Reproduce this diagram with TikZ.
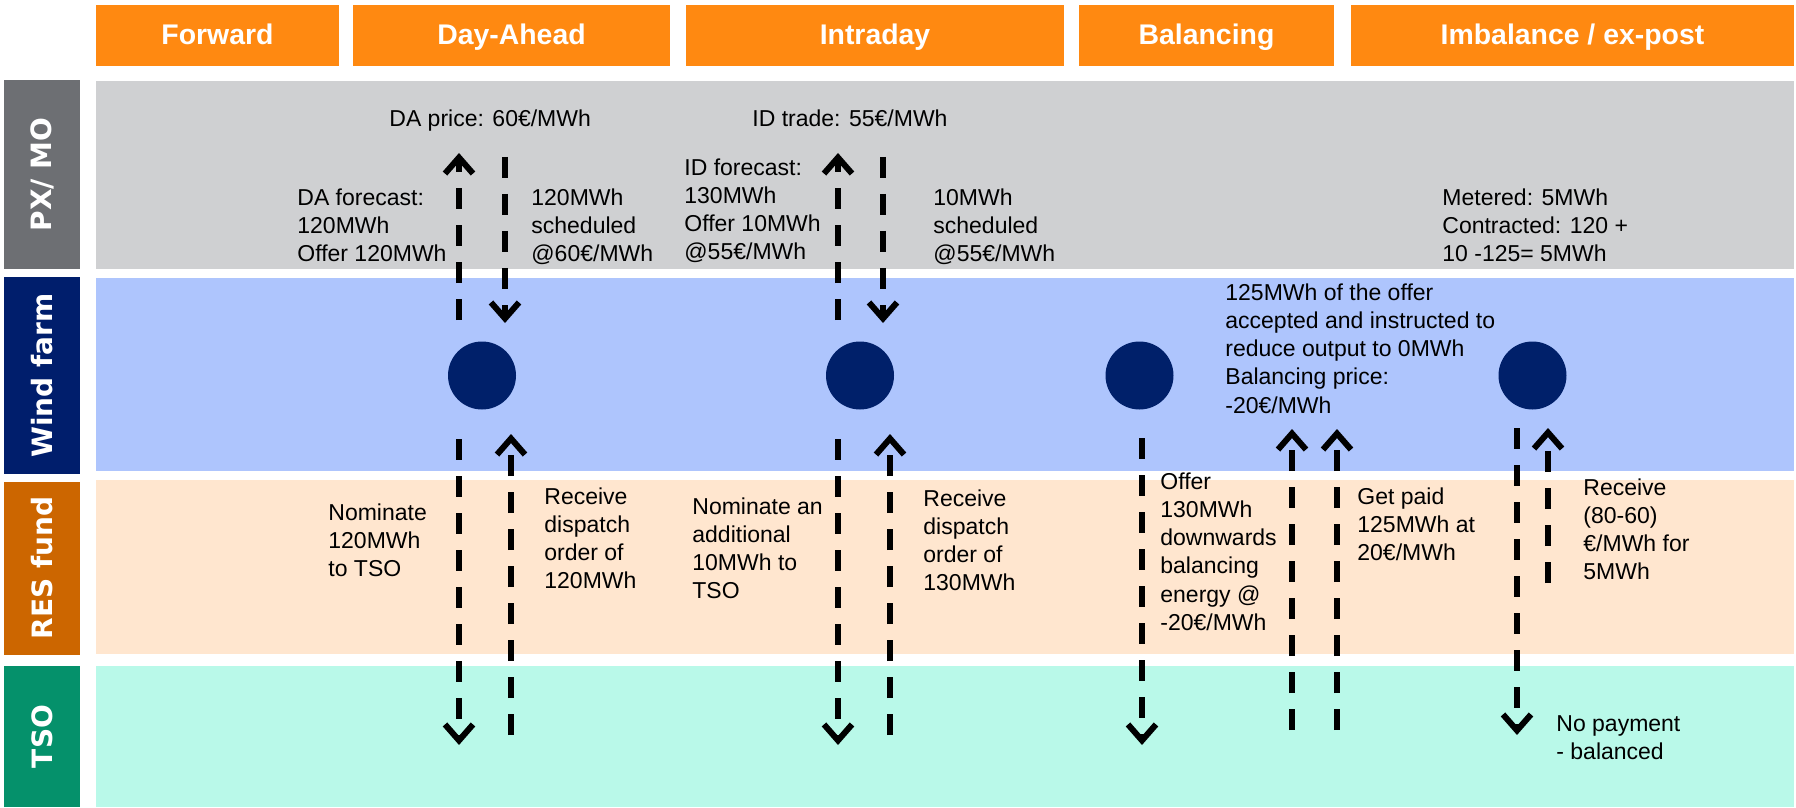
\documentclass[tikz,border=0pt]{standalone}
\usepackage{fontspec}
\setmainfont{Liberation Sans}
\newfontfamily\lanefont{DejaVu Sans}
\usetikzlibrary{arrows.meta}

\definecolor{hdrorange}{RGB}{255,137,17}
\definecolor{pxlabel}{RGB}{109,111,115}
\definecolor{pxband}{RGB}{207,208,210}
\definecolor{wflabel}{RGB}{0,30,108}
\definecolor{wfband}{RGB}{174,197,253}
\definecolor{wfdot}{RGB}{0,32,106}
\definecolor{reslabel}{RGB}{204,102,0}
\definecolor{resband}{RGB}{255,230,207}
\definecolor{tsolabel}{RGB}{5,145,107}
\definecolor{tsoband}{RGB}{185,249,233}

\begin{document}
\begin{tikzpicture}[x=0.5pt,y=-0.5pt,
  hdrtext/.style={text=white,font=\fontsize{14.2}{16}\selectfont\bfseries,inner sep=0,anchor=base},
  lanetext/.style={text=white,font=\lanefont\fontsize{14}{16}\selectfont\bfseries,rotate=90,inner sep=0},
  txt/.style={anchor=north west,inner sep=0,align=left,font=\fontsize{11.5}{14.15}\selectfont},
  dot/.style={circle,fill=wfdot,minimum size=34pt,inner sep=0},
  flow/.style={line width=3pt,dash pattern=on 10.5pt off 8pt,-{Straight Barb[length=8pt,width=14pt]}}]

\useasboundingbox (0,0) rectangle (1796,808);

% phase headers
\fill[hdrorange] (96,5) rectangle (339,66);
\fill[hdrorange] (353,5) rectangle (670,66);
\fill[hdrorange] (686,5) rectangle (1064,66);
\fill[hdrorange] (1079,5) rectangle (1334,66);
\fill[hdrorange] (1351,5) rectangle (1794,66);
\node[hdrtext] (hfwd) at (217.5,45) {Forward};
\node[hdrtext] (hda)  at (511.5,45) {Day-Ahead};
\node[hdrtext] (hid)  at (875,45) {Intraday};
\node[hdrtext] (hbal) at (1206.5,45) {Balancing};
\node[hdrtext] (himb) at (1572.5,45) {Imbalance / ex-post};

% swimlanes
\fill[pxlabel] (4,80) rectangle (80,269);
\fill[pxband] (96,81) rectangle (1794,269);
\fill[wflabel] (4,277) rectangle (80,474);
\fill[wfband] (96,278) rectangle (1794,471);
\fill[reslabel] (4,482) rectangle (80,655);
\fill[resband] (96,480) rectangle (1794,654);
\fill[tsolabel] (4,666) rectangle (80,807);
\fill[tsoband] (96,666) rectangle (1794,807);
\node[lanetext] (lpx)  at (42,174.5) {PX/ MO};
\node[lanetext] (lwf)  at (42,375.5) {Wind farm};
\node[lanetext] (lres) at (42,568) {RES fund};
\node[lanetext] (ltso) at (42,736.5) {TSO};

% wind farm events
\node[dot] (wf1) at (482,375.5) {};
\node[dot] (wf2) at (860,375.5) {};
\node[dot] (wf3) at (1139.5,375.5) {};
\node[dot] (wf4) at (1532.5,375.5) {};

% arrow end points
\coordinate (a1s) at (459,320);  \coordinate (a1e) at (459,153);
\coordinate (a2s) at (505,157);  \coordinate (a2e) at (505,323);
\coordinate (a3s) at (459,439);  \coordinate (a3e) at (459,745);
\coordinate (a4s) at (511,735);  \coordinate (a4e) at (511,434);
\coordinate (b1s) at (838,320);  \coordinate (b1e) at (838,153);
\coordinate (b2s) at (883,157);  \coordinate (b2e) at (883,323);
\coordinate (b3s) at (838,439);  \coordinate (b3e) at (838,745);
\coordinate (b4s) at (890,735);  \coordinate (b4e) at (890,434);
\coordinate (c1s) at (1142,438); \coordinate (c1e) at (1142,745);
\coordinate (c2s) at (1292,730); \coordinate (c2e) at (1292,429);
\coordinate (c3s) at (1337,730); \coordinate (c3e) at (1337,429);
\coordinate (d1s) at (1517,428); \coordinate (d1e) at (1517,735);
\coordinate (d2s) at (1548,583); \coordinate (d2e) at (1548,428);

\draw[flow] (a1s) -- (a1e);
\draw[flow] (a2s) -- (a2e);
\draw[flow] (a3s) -- (a3e);
\draw[flow] (a4s) -- (a4e);
\draw[flow] (b1s) -- (b1e);
\draw[flow] (b2s) -- (b2e);
\draw[flow] (b3s) -- (b3e);
\draw[flow] (b4s) -- (b4e);
\draw[flow] (c1s) -- (c1e);
\draw[flow] (c2s) -- (c2e);
\draw[flow] (c3s) -- (c3e);
\draw[flow] (d1s) -- (d1e);
\draw[flow] (d2s) -- (d2e);

% market texts
\node[txt] (tdaprice) at (389,109) {DA price: 60€/MWh};
\node[txt] (tidtrade) at (752,109) {ID trade: 55€/MWh};
\node[txt] (tdafc) at (297,188) {DA forecast:\\120MWh\\Offer 120MWh};
\node[txt] (tdasch) at (531,188) {120MWh\\scheduled\\@60€/MWh};
\node[txt] (tidfc) at (684,158) {ID forecast:\\130MWh\\Offer 10MWh\\@55€/MWh};
\node[txt] (tidsch) at (933,188) {10MWh\\scheduled\\@55€/MWh};
\node[txt] (tmeter) at (1442,188) {Metered: 5MWh\\Contracted: 120 +\\10 -125= 5MWh};

% wind farm text
\node[txt] (tbalacc) at (1225,283) {125MWh of the offer\\accepted and instructed to\\reduce output to 0MWh\\Balancing price:\\-20€/MWh};

% RES fund texts
\node[txt] (tnom1) at (328,503) {Nominate\\120MWh\\to TSO};
\node[txt] (trec1) at (544,487) {Receive\\dispatch\\order of\\120MWh};
\node[txt] (tnom2) at (692,497) {Nominate an\\additional\\10MWh to\\TSO};
\node[txt] (trec2) at (923,489) {Receive\\dispatch\\order of\\130MWh};
\node[txt] (toffer) at (1160,472) {Offer\\130MWh\\downwards\\balancing\\energy @\\-20€/MWh};
\node[txt] (tpaid) at (1357,487) {Get paid\\125MWh at\\20€/MWh};
\node[txt] (trec3) at (1583,478) {Receive\\(80-60)\\€/MWh for\\5MWh};

% TSO text
\node[txt] (tnopay) at (1556,715) {No payment\\- balanced};
\end{tikzpicture}
\end{document}
